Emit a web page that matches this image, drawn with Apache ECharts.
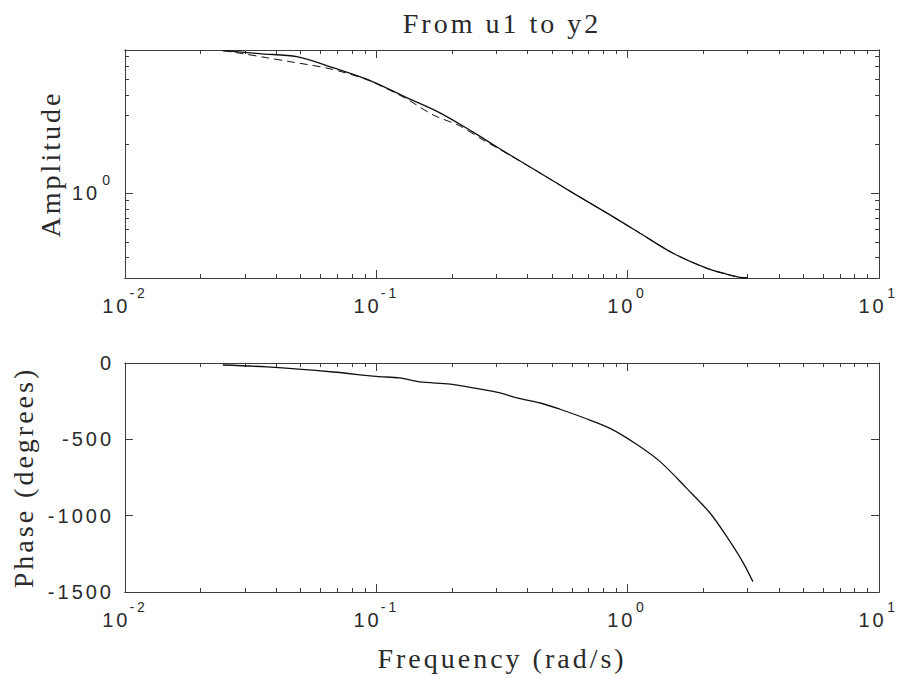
<!DOCTYPE html>
<html lang="en">
<head>
<meta charset="UTF-8">
<script src="https://cdn.jsdelivr.net/npm/echarts@6/dist/echarts.min.js"></script>
<title>From u1 to y2</title>
<style>
    html, body { margin: 0; padding: 0; background: #fff; }
    #main { width: 900px; height: 679px; }
    #main text { letter-spacing: 3px; }
</style>
</head>
<body>
<div id="main"></div>
<script>
    // amplitude, solid line
    var ampFreq = [0.0245, 0.035, 0.0483, 0.0673, 0.097, 0.13, 0.179, 0.242, 0.302, 0.448, 0.607,
        0.828, 1.12, 1.516, 2.07, 2.49, 2.80, 3.0];
    var ampSolid = [7.53, 7.2, 6.91, 5.91, 4.84, 3.91, 3.12, 2.38, 1.92, 1.33, 1.00,
        0.752, 0.566, 0.426, 0.344, 0.316, 0.303, 0.300];
    // amplitude, dashed line
    var dashFreq = [0.0245, 0.0295, 0.0367, 0.0454, 0.0655, 0.0918, 0.13, 0.168, 0.215, 0.266, 0.302,
        0.448, 0.607, 0.828, 1.12, 1.516, 2.07, 2.49, 2.80, 3.0];
    var ampDashed = [7.53, 7.21, 6.81, 6.44, 5.82, 4.98, 3.85, 3.03, 2.59, 2.12, 1.90,
        1.33, 1.00, 0.752, 0.566, 0.426, 0.344, 0.316, 0.303, 0.300];
    // phase
    var phaseFreq = [0.0245, 0.0367, 0.0673, 0.1, 0.124, 0.149, 0.197, 0.25, 0.311, 0.363, 0.45,
        0.538, 0.677, 0.851, 1.07, 1.346, 1.718, 2.13, 2.48, 2.89, 3.15];
    var phaseDeg = [-13, -26, -59, -88, -98, -124, -138, -166, -196, -229, -262,
        -303, -362, -428, -526, -646, -821, -984, -1138, -1312, -1432];

    // ticks
    var decades = [0.01, 0.1, 1, 10];
    var freqMinor = [0.02, 0.03, 0.04, 0.05, 0.06, 0.07, 0.08, 0.09,
        0.2, 0.3, 0.4, 0.5, 0.6, 0.7, 0.8, 0.9,
        2, 3, 4, 5, 6, 7, 8, 9];
    var ampMajor = [1];
    var ampMinor = [0.3, 0.4, 0.5, 0.6, 0.7, 0.8, 0.9, 2, 3, 4, 5, 6, 7];
    var phaseTicks = [-1500, -1000, -500, 0];

    var frame = '#3c3c3c';
    var ink = '#2a2a2a';
    var sans = 'Liberation Sans';
    var serif = 'Liberation Serif';

    function pow10(v) {
        return '{b|10}{s|' + Math.round(Math.log10(v)) + '}';
    }
    var powRich = {
        b: { fontSize: 20, fontFamily: sans, color: ink, lineHeight: 40 },
        s: { fontSize: 14, fontFamily: sans, color: ink, lineHeight: 14, verticalAlign: 'top', padding: [0, 0, 0, 5] }
    };

    // several axes share one side of a panel: one draws the long decade ticks, one the short minor ticks
    function axis(type, grid, pos, ticks, len, min, max) {
        return {
            type: type, gridIndex: grid, position: pos, min: min, max: max,
            axisLine: { show: true, onZero: false, lineStyle: { color: frame, width: 1 } },
            axisTick: { show: true, inside: true, length: len, customValues: ticks, lineStyle: { color: frame } },
            axisLabel: { show: false },
            splitLine: { show: false }
        };
    }

    function pairs(xs, ys) {
        return xs.map(function (x, i) { return [x, ys[i]]; });
    }

    var grids = [
        { left: 125, right: 21, top: 50, height: 228, outerBoundsMode: 'none' },
        { left: 125, right: 21, top: 363, height: 229, outerBoundsMode: 'none' }
    ];

    var xAxes = [
        axis('log', 0, 'bottom', decades, 8, 0.01, 10),
        axis('log', 0, 'bottom', freqMinor, 4, 0.01, 10),
        axis('log', 0, 'top', decades, 8, 0.01, 10),
        axis('log', 0, 'top', freqMinor, 4, 0.01, 10),
        axis('log', 1, 'bottom', decades, 8, 0.01, 10),
        axis('log', 1, 'bottom', freqMinor, 4, 0.01, 10),
        axis('log', 1, 'top', decades, 8, 0.01, 10),
        axis('log', 1, 'top', freqMinor, 4, 0.01, 10)
    ];
    [0, 4].forEach(function (i) {
        xAxes[i].axisLabel = { show: true, customValues: decades, margin: 8, formatter: pow10, rich: powRich };
    });
    xAxes[4].name = 'Frequency (rad/s)';
    xAxes[4].nameLocation = 'middle';
    xAxes[4].nameGap = 52;
    xAxes[4].nameTextStyle = { fontFamily: serif, fontSize: 28, color: ink };

    var yAxes = [
        axis('log', 0, 'left', ampMajor, 8, 0.3, 7.6),
        axis('log', 0, 'left', ampMinor, 4, 0.3, 7.6),
        axis('log', 0, 'right', ampMajor, 8, 0.3, 7.6),
        axis('log', 0, 'right', ampMinor, 4, 0.3, 7.6),
        axis('value', 1, 'left', phaseTicks, 8, -1500, 0),
        axis('value', 1, 'right', phaseTicks, 8, -1500, 0)
    ];
    yAxes[0].axisLabel = { show: true, customValues: ampMajor, margin: 12, formatter: pow10, rich: powRich };
    yAxes[0].name = 'Amplitude';
    yAxes[0].nameLocation = 'middle';
    yAxes[0].nameGap = 61;
    yAxes[0].nameTextStyle = { fontFamily: serif, fontSize: 28, color: ink };
    yAxes[4].interval = 500;
    yAxes[4].axisLabel = {
        show: true, margin: 11, fontFamily: sans, fontSize: 20, color: ink,
        formatter: function (v) { return String(v); }
    };
    yAxes[4].name = 'Phase (degrees)';
    yAxes[4].nameLocation = 'middle';
    yAxes[4].nameGap = 88;
    yAxes[4].nameTextStyle = { fontFamily: serif, fontSize: 28, color: ink };
    yAxes[5].interval = 500;

    var chart = echarts.init(document.getElementById('main'), null, { renderer: 'svg' });
    chart.setOption({
        animation: false,
        backgroundColor: '#fff',
        title: {
            text: 'From u1 to y2',
            left: 497, top: 4, textAlign: 'center',
            textStyle: { fontFamily: serif, fontSize: 28, fontWeight: 'normal', color: ink }
        },
        grid: grids,
        xAxis: xAxes,
        yAxis: yAxes,
        series: [
            {
                name: 'amplitude', type: 'line', xAxisIndex: 0, yAxisIndex: 0,
                data: pairs(ampFreq, ampSolid), showSymbol: false, smooth: 0.3,
                lineStyle: { color: '#111', width: 1.3 }
            },
            {
                name: 'amplitude (model)', type: 'line', xAxisIndex: 0, yAxisIndex: 0,
                data: pairs(dashFreq, ampDashed), showSymbol: false, smooth: 0.3,
                lineStyle: { color: '#111', width: 1, type: [8, 5] }
            },
            {
                name: 'phase', type: 'line', xAxisIndex: 4, yAxisIndex: 4,
                data: pairs(phaseFreq, phaseDeg), showSymbol: false, smooth: 0.3,
                lineStyle: { color: '#111', width: 1.3 }
            }
        ]
    });
</script>
</body>
</html>
